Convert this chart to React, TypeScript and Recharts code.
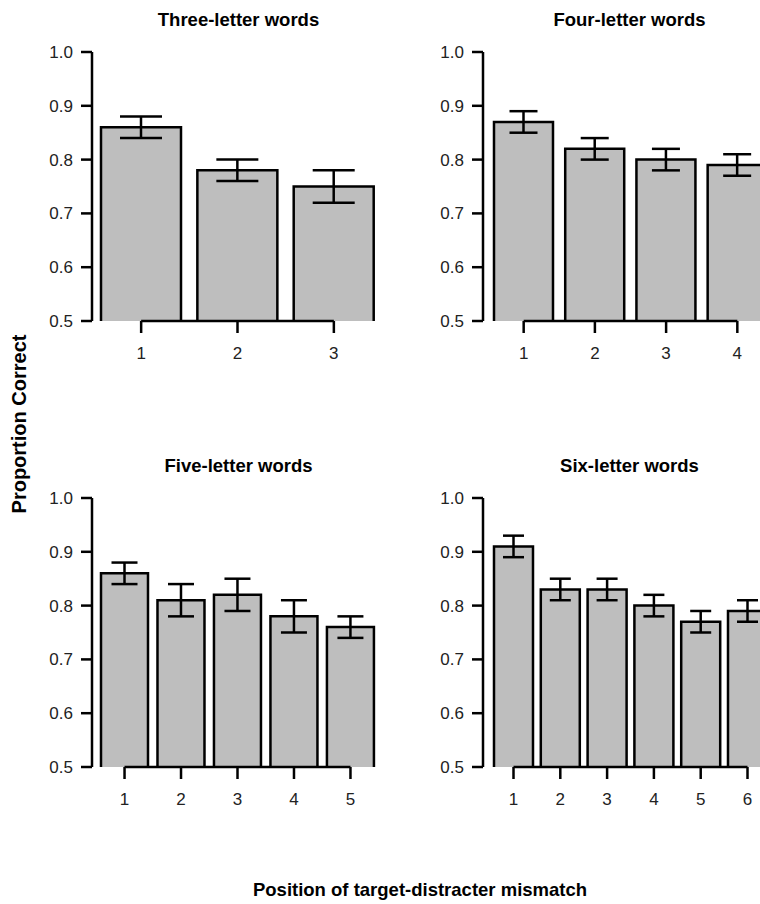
import { BarChart, Bar, XAxis, YAxis, ErrorBar, ReferenceLine } from 'recharts';

const FONT = '"Liberation Sans", Arial, Helvetica, sans-serif';

// mismatch positions per word length
const pos3 = ['1', '2', '3'];
const pos4 = ['1', '2', '3', '4'];
const pos5 = ['1', '2', '3', '4', '5'];
const pos6 = ['1', '2', '3', '4', '5', '6'];

// proportion correct (mean) and error (+/-)
const threeLetter = [0.86, 0.78, 0.75];
const threeLetterErr = [0.02, 0.02, 0.03];
const fourLetter = [0.87, 0.82, 0.8, 0.79];
const fourLetterErr = [0.02, 0.02, 0.02, 0.02];
const fiveLetter = [0.86, 0.81, 0.82, 0.78, 0.76];
const fiveLetterErr = [0.02, 0.03, 0.03, 0.03, 0.02];
const sixLetter = [0.91, 0.83, 0.83, 0.8, 0.77, 0.79];
const sixLetterErr = [0.02, 0.02, 0.02, 0.02, 0.02, 0.02];

const yTicks = [0.5, 0.6, 0.7, 0.8, 0.9, 1.0];

const Y_AXIS_W = 60;
const M_TOP = 10;
const PLOT_W = 293;
const PLOT_H = 269;
const X_AXIS_H = 50;
const BAR_SPAN = 273;
const LW = 2.5;

// bar with no bottom edge (clipped look of the original)
const OpenBar = (props: any) => {
  const { x, y, width, height, fill } = props;
  if (width == null || height == null) return null;
  return (
    <g>
      <rect x={x} y={y} width={width} height={height} fill={fill} />
      <path
        d={`M${x},${y + height} L${x},${y} L${x + width},${y} L${x + width},${y + height}`}
        fill="none"
        stroke="#000"
        strokeWidth={LW}
      />
    </g>
  );
};

type PanelProps = {
  cats: string[];
  values: number[];
  errs: number[];
  axisX: number;
  plotTop: number;
  inset: number;
  cap: number;
};

function Panel({ cats, values, errs, axisX, plotTop, inset, cap }: PanelProps) {
  const data = cats.map((c, i) => ({ pos: c, value: values[i], err: errs[i] }));
  const n = cats.length;
  const b = BAR_SPAN / (1.2 * n - 0.2);
  const padL = inset - 0.1 * b;
  const padR = PLOT_W - inset - BAR_SPAN - 0.1 * b;
  return (
    <div style={{ position: 'absolute', left: axisX - Y_AXIS_W, top: plotTop - M_TOP }}>
      <BarChart
        width={Y_AXIS_W + PLOT_W + 10}
        height={M_TOP + PLOT_H + X_AXIS_H}
        data={data}
        margin={{ top: M_TOP, right: 10, left: 0, bottom: 0 }}
        barCategoryGap="8.333%"
      >
        <XAxis
          dataKey="pos"
          type="category"
          interval={0}
          padding={{ left: padL, right: padR }}
          axisLine={false}
          tickLine={{ stroke: '#000', strokeWidth: LW }}
          tickSize={12}
          tickMargin={14}
          height={X_AXIS_H}
          tick={{ fill: '#222', fontSize: 17, fontFamily: FONT }}
        />
        <YAxis
          type="number"
          domain={[0.5, 1]}
          ticks={yTicks}
          allowDataOverflow
          tickFormatter={(v: number) => v.toFixed(1)}
          width={Y_AXIS_W}
          axisLine={{ stroke: '#000', strokeWidth: LW }}
          tickLine={{ stroke: '#000', strokeWidth: LW }}
          tickSize={11}
          tickMargin={8}
          tick={{ fill: '#222', fontSize: 17, fontFamily: FONT }}
        />
        <Bar dataKey="value" fill="#bebebe" isAnimationActive={false} shape={OpenBar}>
          <ErrorBar dataKey="err" width={cap} stroke="#000" strokeWidth={LW} isAnimationActive={false} />
        </Bar>
        <ReferenceLine
          segment={[{ x: cats[0], y: 0.5 }, { x: cats[n - 1], y: 0.5 }]}
          stroke="#000"
          strokeWidth={LW}
          ifOverflow="visible"
        />
      </BarChart>
    </div>
  );
}

export default function App() {
  const leftX = 92;
  const rightX = 483;
  const topRow = 52;
  const bottomRow = 498;
  const titleStyle = { fontFamily: FONT, fontSize: 18.5, fontWeight: 700, fill: '#000' } as const;
  return (
    <div
      style={{
        position: 'fixed',
        left: 0,
        top: 0,
        width: 760,
        height: 904,
        overflow: 'hidden',
        background: '#fff',
        fontFamily: FONT,
      }}
    >
      <Panel cats={pos3} values={threeLetter} errs={threeLetterErr} axisX={leftX} plotTop={topRow} inset={9} cap={21} />
      <Panel cats={pos4} values={fourLetter} errs={fourLetterErr} axisX={rightX} plotTop={topRow} inset={11} cap={14} />
      <Panel cats={pos5} values={fiveLetter} errs={fiveLetterErr} axisX={leftX} plotTop={bottomRow} inset={9} cap={13} />
      <Panel cats={pos6} values={sixLetter} errs={sixLetterErr} axisX={rightX} plotTop={bottomRow} inset={11} cap={10.5} />
      <svg width={760} height={904} style={{ position: 'absolute', left: 0, top: 0, pointerEvents: 'none' }}>
        <text x={leftX + PLOT_W / 2} y={26} textAnchor="middle" style={titleStyle}>Three-letter words</text>
        <text x={rightX + PLOT_W / 2} y={26} textAnchor="middle" style={titleStyle}>Four-letter words</text>
        <text x={leftX + PLOT_W / 2} y={472} textAnchor="middle" style={titleStyle}>Five-letter words</text>
        <text x={rightX + PLOT_W / 2} y={472} textAnchor="middle" style={titleStyle}>Six-letter words</text>
        <text
          x={26}
          y={424}
          textAnchor="middle"
          transform="rotate(-90, 26, 424)"
          style={{ fontFamily: FONT, fontSize: 20, fontWeight: 700, fill: '#000' }}
        >
          Proportion Correct
        </text>
        <text x={420} y={896} textAnchor="middle" style={{ fontFamily: FONT, fontSize: 18.5, fontWeight: 700, fill: '#000' }}>
          Position of target-distracter mismatch
        </text>
      </svg>
    </div>
  );
}
